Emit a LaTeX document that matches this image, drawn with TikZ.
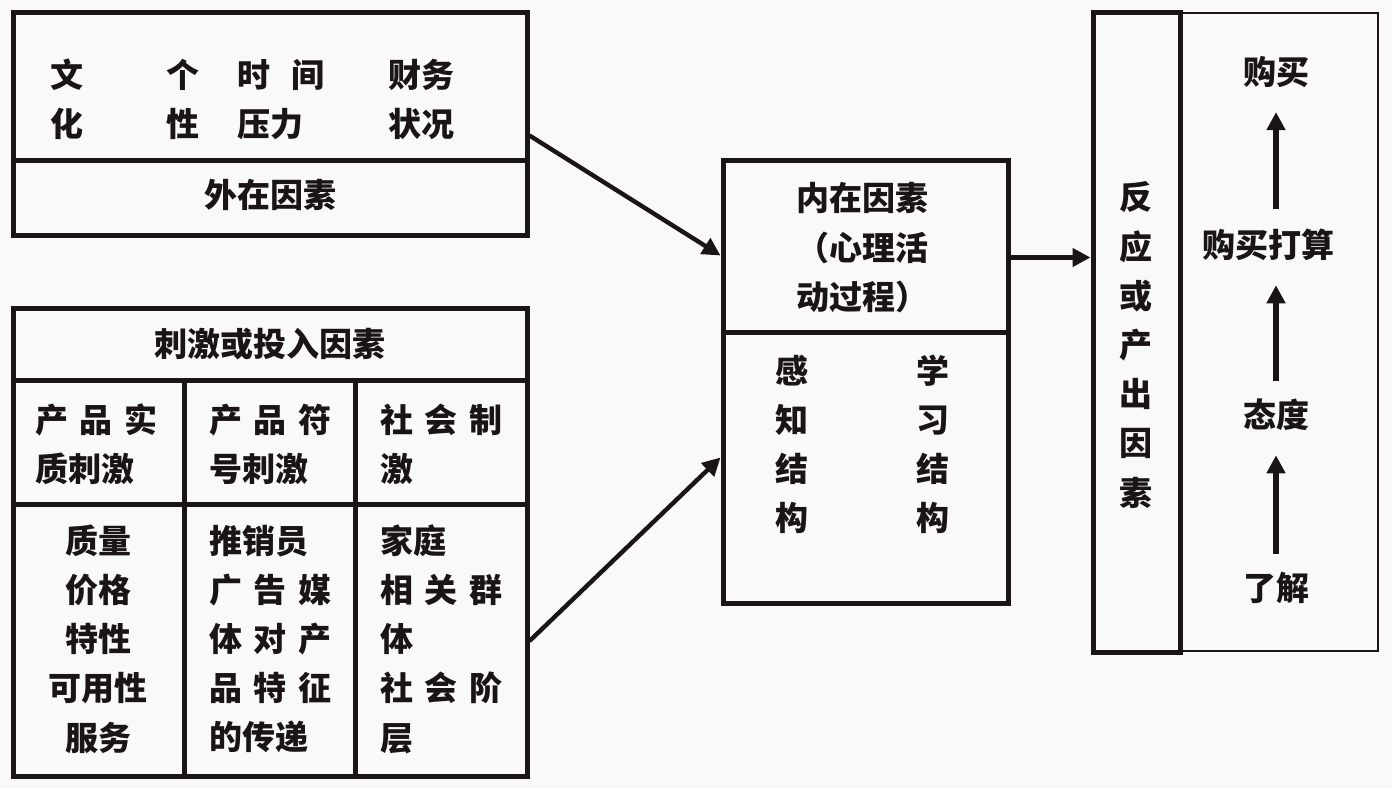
\documentclass[tikz,border=0pt]{standalone}
\usepackage{fontspec}
\newfontfamily\cjk{Noto Sans CJK SC}
\usetikzlibrary{arrows.meta,calc}
\definecolor{ink}{HTML}{1A1418}
\definecolor{paper}{HTML}{F9F9FB}
\newcommand{\gapch}{\hspace{0.35em}}

\begin{document}
\begin{tikzpicture}[x=0.5pt,y=-0.5pt,
  box/.style={draw=ink, line width=2.5pt, inner sep=0pt},
  thinbox/.style={draw=ink, line width=1pt, inner sep=0pt},
  rule/.style={draw=ink, line width=2.5pt},
  txt/.style={inner sep=0pt, text=ink, font=\cjk\bfseries\fontsize{16.5}{24.6}\selectfont},
  lefttxt/.style={txt, anchor=west, align=left},
  midtxt/.style={txt, align=center},
  arr/.style={draw=ink, line width=2.2pt, -{Triangle[length=9pt,width=9pt]}}]

\fill[paper] (0,0) rectangle (1392,788);
\useasboundingbox (0,0) rectangle (1392,788);

% external factors
\node[box, minimum width=257pt, minimum height=111.5pt] (ext) at (270,123.5) {};
\draw[rule] (ext.west |- 0,160) -- (ext.east |- 0,160);
\node[midtxt] (culture) at (67,99.5) {文\\化};
\node[midtxt] (personal) at (183,99.5) {个\\性};
\node[lefttxt] (timepress) at (237,99.5) {时\hspace{0.65em}间\\压力};
\node[lefttxt] (finance) at (388,99.5) {财务\\状况};
\node[midtxt] (extlabel) at (270,195) {外在因素};

% stimulus / input factors
\node[box, minimum width=257pt, minimum height=234pt] (stim) at (270,542) {};
\draw[rule] (stim.west |- 0,380) -- (stim.east |- 0,380);
\draw[rule] (stim.west |- 0,504) -- (stim.east |- 0,504);
\draw[rule] (184,380) -- (stim.south -| 184,0);
\draw[rule] (355,380) -- (stim.south -| 355,0);
\node[midtxt] (stimlabel) at (270,344) {刺激或投入因素};
\node[lefttxt] (physical) at (35,444) {产\gapch 品\gapch 实\\质刺激};
\node[lefttxt] (symbolic) at (209,444) {产\gapch 品\gapch 符\\号刺激};
\node[lefttxt] (social) at (380,444) {社\gapch 会\gapch 制\\激};
\node[midtxt] (quality) at (98,639) {质量\\价格\\特性\\可用性\\服务};
\node[lefttxt] (media) at (209,639) {推销员\\广\gapch 告\gapch 媒\\体\gapch 对\gapch 产\\品\gapch 特\gapch 征\\的传递};
\node[lefttxt] (family) at (380,639) {家庭\\相\gapch 关\gapch 群\\体\\社\gapch 会\gapch 阶\\层};

% internal factors
\node[box, minimum width=142.5pt, minimum height=221.5pt] (inner) at (865.5,381.5) {};
\draw[rule] (inner.west |- 0,332) -- (inner.east |- 0,332);
\node[lefttxt] (innerlabel) at (796,247.7) {内在因素\\（心理活\\动过程）};
\node[midtxt] (perceive) at (792,444.5) {感\\知\\结\\构};
\node[midtxt] (learn) at (933,444.5) {学\\习\\结\\构};

% response / output factors
\node[thinbox, minimum width=99pt, minimum height=319pt] (chain) at (1279,332) {};
\node[box, minimum width=43.5pt, minimum height=320pt] (resp) at (1136.5,332) {};
\node[midtxt] (resplabel) at (1136,345) {反\\应\\或\\产\\出\\因\\素};
\node[midtxt] (buy) at (1276,72) {购买};
\node[midtxt] (intent) at (1268,245) {购买打算};
\node[midtxt] (attitude) at (1276,415) {态度};
\node[midtxt] (aware) at (1276,588) {了解};

% connectors
\draw[arr] ([yshift=-6pt]ext.east) -- ([yshift=63pt]inner.west);
\draw[arr] ([yshift=-49.5pt]stim.east) -- ([yshift=-38pt]inner.west);
\draw[arr] ([yshift=62pt]inner.east) coordinate (outp) -- (outp -| resp.west);
\draw[arr, line width=2.6pt, shorten <=9pt, shorten >=12pt] (aware.north -| buy) -- (attitude.south -| buy);
\draw[arr, line width=2.6pt, shorten <=9pt, shorten >=12pt] (attitude.north -| buy) -- (intent.south -| buy);
\draw[arr, line width=2.6pt, shorten <=10pt, shorten >=12pt] (intent.north -| buy) -- (buy.south);
\end{tikzpicture}
\end{document}
